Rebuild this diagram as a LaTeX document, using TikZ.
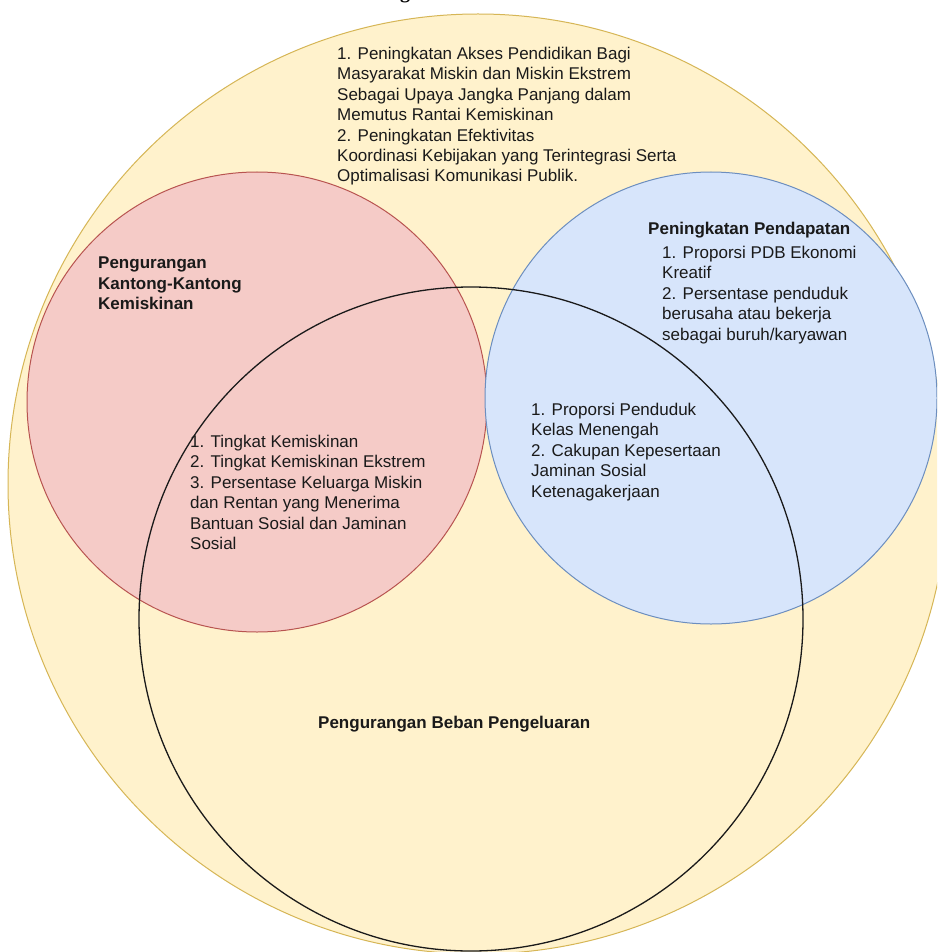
\documentclass[tikz,border=0pt]{standalone}
\usepackage{fontspec}
\setmainfont{Liberation Sans}
\newfontfamily\capserif{Liberation Serif}
\definecolor{yfill}{HTML}{FFF2CC}
\definecolor{ystroke}{HTML}{D6B656}
\definecolor{rfill}{HTML}{F5CBC7}
\definecolor{rstroke}{HTML}{B85450}
\definecolor{bfill}{HTML}{D7E5FB}
\definecolor{bstroke}{HTML}{6C8EBF}
\definecolor{inkc}{HTML}{1A1A1A}
\tikzset{
  ring/.style={circle, inner sep=0pt, line width=1pt},
  txt/.style={anchor=north west, align=left, inner sep=0pt, text=inkc,
    font=\fontsize{17}{20.4}\selectfont},
  btxt/.style={txt, font=\bfseries\fontsize{17}{20.4}\selectfont}
}
\begin{document}
\begin{tikzpicture}[x=1pt,y=-1pt]
\useasboundingbox (0,0) rectangle (937,952);
\clip (0,0) rectangle (937,952);
\fill[white] (0,0) rectangle (937,952);
\node[ring, draw=ystroke, fill=yfill, minimum size=940pt] (outer) at (478,484) {};
\node[ring, draw=rstroke, fill=rfill, minimum size=460pt] (red) at (257,402) {};
\node[ring, draw=bstroke, fill=bfill, minimum size=452pt] (blue) at (711,398) {};
\node[ring, draw=inkc, line width=1.3pt, minimum size=664pt] (black) at (471,619) {};
\node[anchor=base, inner sep=0pt, text=black, font=\capserif\bfseries\fontsize{20}{20}\selectfont] (cut) at (405,-1) {g};
\node[txt] (toptxt) at (337,47) {1. Peningkatan Akses Pendidikan Bagi\\Masyarakat Miskin dan Miskin Ekstrem\\Sebagai Upaya Jangka Panjang dalam\\Memutus Rantai Kemiskinan\\2. Peningkatan Efektivitas\\Koordinasi Kebijakan yang Terintegrasi Serta\\Optimalisasi Komunikasi Publik.};
\node[btxt] (redtitle) at (98,257) {Pengurangan\\Kantong-Kantong\\Kemiskinan};
\node[txt] (redin) at (190,435) {1. Tingkat Kemiskinan\\2. Tingkat Kemiskinan Ekstrem\\3. Persentase Keluarga Miskin\\dan Rentan yang Menerima\\Bantuan Sosial dan Jaminan\\Sosial};
\node[btxt] (bluetitle) at (648,222) {Peningkatan Pendapatan};
\node[txt] (bluein) at (662,246) {1. Proporsi PDB Ekonomi\\Kreatif\\2. Persentase penduduk\\berusaha atau bekerja\\sebagai buruh/karyawan};
\node[txt] (midtxt) at (531,403) {1. Proporsi Penduduk\\Kelas Menengah\\2. Cakupan Kepesertaan\\Jaminan Sosial\\Ketenagakerjaan};
\node[btxt] (bottomtxt) at (318,716) {Pengurangan Beban Pengeluaran};
\end{tikzpicture}
\end{document}
